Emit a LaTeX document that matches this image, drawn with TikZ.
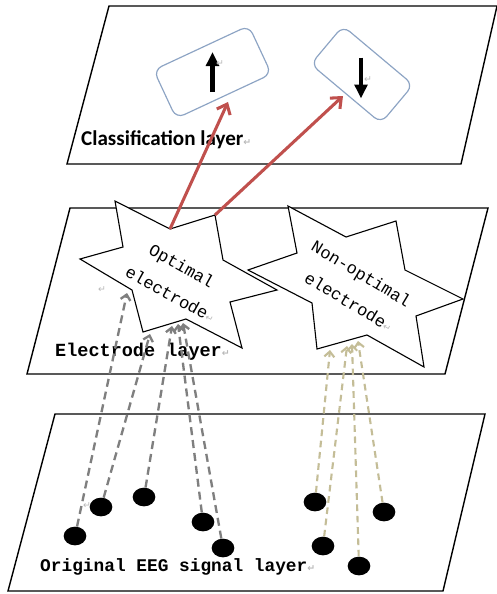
\documentclass[tikz,border=0pt]{standalone}
\usepackage{fontspec}
\usepackage{tikz}
\usetikzlibrary{arrows.meta,positioning,calc,shapes.geometric}
\newfontfamily\calibfont{Carlito}
\newfontfamily\monofont{Liberation Mono}
\newfontfamily\symbfont{DejaVu Sans}
\definecolor{linkred}{HTML}{C0504D}
\definecolor{linkgrey}{HTML}{7F7F7F}
\definecolor{linktan}{HTML}{C4BD97}
\definecolor{boxblue}{HTML}{8DA4C4}
\newcommand{\retmark}{{\symbfont\color{gray!55}\fontsize{8pt}{8pt}\selectfont ↵}}

\begin{document}
\begin{tikzpicture}[x=0.3mm,y=-0.3mm,
  layer/.style={draw=black,line width=1.2pt,fill=white},
  starshape/.style={draw=black,line width=0.95pt,fill=white},
  classbox/.style={draw=boxblue,line width=1pt,fill=white,rounded corners=2.6mm,inner sep=0pt},
  starlbl/.style={font=\monofont\fontsize{14.5pt}{26pt}\selectfont,align=center,inner sep=0pt,text=black},
  layerlbl/.style={anchor=west,inner sep=0pt},
  eegdot/.style={ellipse,fill=black,minimum width=6.8mm,minimum height=5.6mm,inner sep=0pt},
  redlink/.style={linkred,line width=2.6pt,-{Straight Barb[length=2.6mm,width=4.4mm]}},
  greylink/.style={linkgrey,line width=2pt,dash pattern=on 2.4mm off 1.5mm,-{Straight Barb[length=1.6mm,width=3mm]}},
  tanlink/.style={linktan,line width=1.8pt,dash pattern=on 2mm off 1.4mm,-{Straight Barb[length=1.6mm,width=3mm]}}]
  \fill[white] (0,0) rectangle (497,594);
  \useasboundingbox (0,0) rectangle (497,594);
  % couche de classification
  \draw[layer] (109,6) -- (497,6) -- (461,164) -- (67,164) -- cycle;
  \node[classbox,rotate=25,minimum width=31.5mm,minimum height=16mm] (upbox) at (212.5,72) {};
  \node[classbox,rotate=-40,minimum width=27.5mm,minimum height=15mm] (downbox) at (362,74.5) {};
  \draw[line width=3.8pt,-{Triangle[length=4.2mm,width=3.8mm]}]
    ($(upbox.center)+(0,20)$) -- ($(upbox.center)+(0,-20)$);
  \draw[line width=3.8pt,-{Triangle[length=4.2mm,width=3.8mm]}]
    ($(downbox.center)+(-1,-17)$) -- ($(downbox.center)+(-1,24)$);
  \node at (220,64) {\retmark};
  \node at (368,80) {\retmark};
  \node[layerlbl] (class-lbl) at (81,140)
    {\calibfont\bfseries\fontsize{18pt}{18pt}\selectfont Classification layer\retmark};
  % couche des électrodes
  \draw[layer] (70,208) -- (488,208) -- (445,374) -- (27,374) -- cycle;
  \draw[starshape] (115,201) -- (123,247) -- (80,259) -- (132,290) -- (143,332) -- (186,319)
    -- (242,348) -- (230,302) -- (277,290) -- (223,260) -- (215,215) coordinate (opt-tr)
    -- (170,229) coordinate (opt-tl) -- cycle;
  \draw[starshape] (288,206) -- (346,237) -- (396,221) -- (405,270) -- (463,299) -- (416,316)
    -- (424,367) -- (367,335) -- (317,349) -- (312,303) -- (248,270) -- (297,253) -- cycle;
  \node[starlbl,rotate=-29] (opt-lbl) at (174.5,279) {Optimal\\electrode\rlap{\retmark}};
  \node[starlbl,rotate=-31] (nonopt-lbl) at (353.5,286.5) {Non-optimal\\electrode\rlap{\retmark}};
  \node at (102,290) {\retmark};
  \node[layerlbl] (elec-lbl) at (55,352)
    {\monofont\bfseries\fontsize{15.8pt}{16pt}\selectfont Electrode layer\retmark};
  % points d'arrivée des liaisons
  \coordinate (opt-in1) at (127,293);
  \coordinate (opt-in2) at (150,334);
  \coordinate (opt-in3) at (172,326);
  \coordinate (opt-in4) at (178,324);
  \coordinate (opt-in5) at (183,323);
  \coordinate (non-in1) at (330,350);
  \coordinate (non-in2) at (347,346);
  \coordinate (non-in3) at (352,344);
  \coordinate (non-in4) at (358,341);
  % couche du signal EEG
  \draw[layer] (55,414) -- (485,414) -- (443,591) -- (8,591) -- cycle;
  \node[layerlbl] (eeg-lbl) at (40,567)
    {\monofont\bfseries\fontsize{15.2pt}{16pt}\selectfont Original EEG signal layer\retmark};
  \node at (87,506) {\retmark};
  \foreach \n/\x/\y in {e1/75/536,e2/101/507,e3/144/497,e4/203/522,e5/223/548,
                        e6/315/502,e7/323/546,e8/359/566,e9/384/512}
    \node[eegdot] (\n) at (\x,\y) {};
  % liaisons
  \foreach \a/\b in {e1/opt-in1,e2/opt-in2,e3/opt-in3,e4/opt-in4,e5/opt-in5}
    \draw[greylink] (\a) -- (\b);
  \foreach \a/\b in {e6/non-in1,e7/non-in2,e8/non-in3,e9/non-in4}
    \draw[tanlink] (\a) -- (\b);
  \coordinate (up-in) at (228,102);
  \coordinate (down-in) at (343,96);
  \draw[redlink] (opt-tl) -- (up-in);
  \draw[redlink] (opt-tr) -- (down-in);
\end{tikzpicture}
\end{document}
